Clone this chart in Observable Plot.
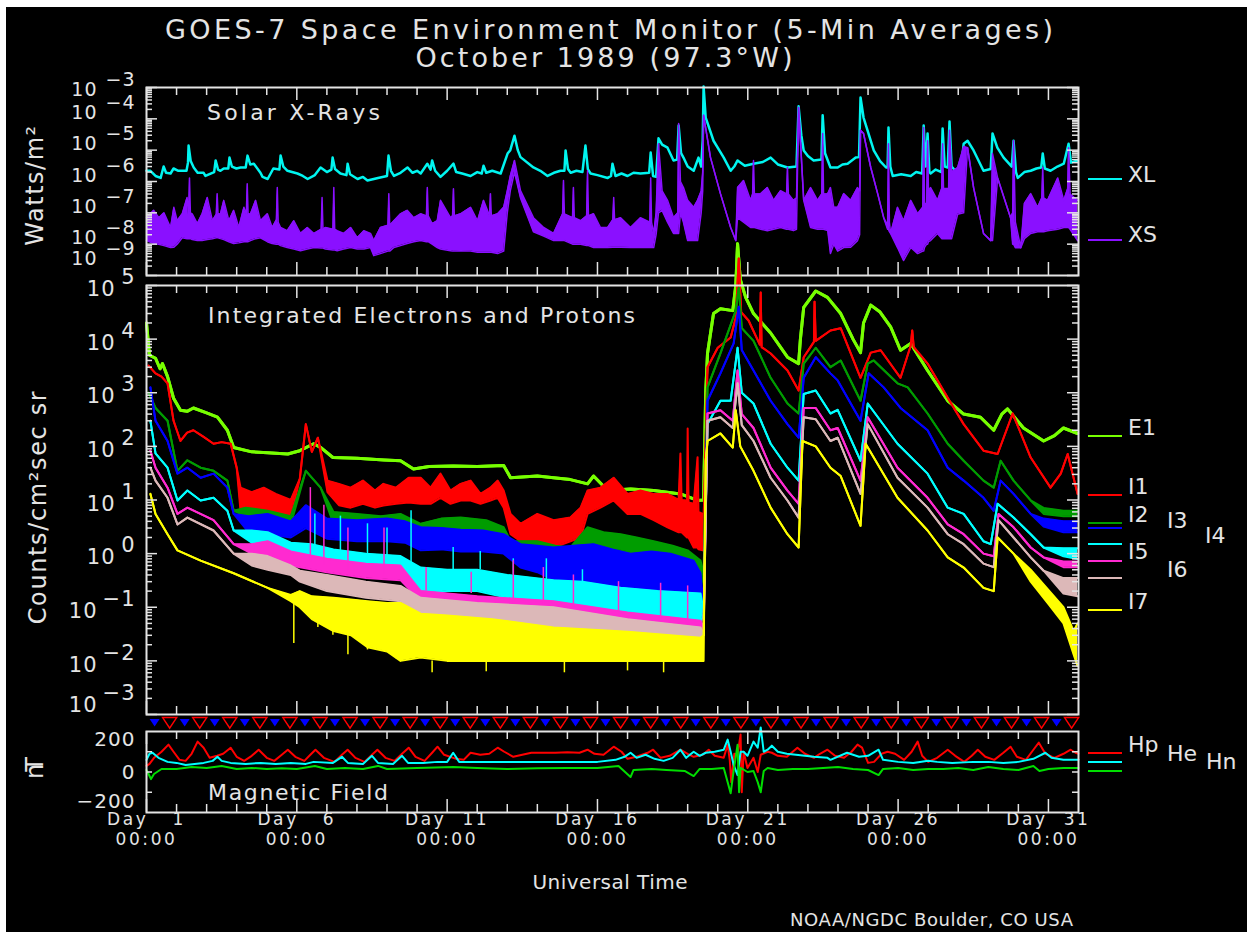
<!DOCTYPE html>
<html><head><meta charset="utf-8">
<script src="https://cdn.jsdelivr.net/npm/d3@7"></script>
<script src="https://cdn.jsdelivr.net/npm/@observablehq/plot@0.6"></script>
<style>
html,body{margin:0;padding:0;background:#fff;}
#root{position:relative;width:1247px;height:932px;overflow:hidden;background:#fff;font-family:"DejaVu Sans","Liberation Sans",sans-serif;}
#bg{position:absolute;left:6px;top:7px;width:1241px;height:925px;background:#000;}
.t{position:absolute;white-space:pre;line-height:1;color:#e4e4e4;}
.sw{position:absolute;height:2px;width:34px;left:1088px;}
</style></head><body>
<div id="root"><div id="bg"></div></div>
<script>
// ---------------- DATA ----------------
// Solar X-rays, long channel XL (W/m^2): [day of October, flux]
const xlFlux = [[1.0,2.2e-6],[1.13,2.2e-6],[1.3,1.5e-6],[1.47,1.3e-6],[1.57,3e-6],[1.65,1.9e-6],[1.8,1.8e-6],[1.9,2.6e-6],[2.06,2.2e-6],[2.33,2.2e-6],[2.38,4e-6],[2.4,1.4e-5],[2.47,4.5e-6],[2.57,2.8e-6],[2.7,1.9e-6],[2.9,1.9e-6],[2.96,1.5e-6],[3.25,2e-6],[3.3,4.7e-6],[3.38,2.4e-6],[3.46,2.2e-6],[3.57,2.6e-6],[3.72,2.6e-6],[3.76,5.8e-6],[3.84,3e-6],[3.99,2.6e-6],[4.13,2.8e-6],[4.3,2.8e-6],[4.36,6.7e-6],[4.45,3.5e-6],[4.57,3.7e-6],[4.79,1.9e-6],[4.86,1.4e-6],[5.03,1.2e-6],[5.22,2.6e-6],[5.42,2.4e-6],[5.46,6.7e-6],[5.55,3e-6],[5.69,2.2e-6],[6.02,1.8e-6],[6.2,1.5e-6],[6.36,1.2e-6],[6.6,1.6e-6],[6.79,2.8e-6],[7.0,2.0e-6],[7.15,2.4e-6],[7.19,5.8e-6],[7.27,2.5e-6],[7.45,1.8e-6],[7.65,1.6e-6],[7.69,3.7e-6],[7.77,1.7e-6],[8.02,1.2e-6],[8.2,1.4e-6],[8.35,1.07e-6],[8.56,1.2e-6],[8.7,1.3e-6],[9.0,1.5e-6],[9.05,6.7e-6],[9.13,2.2e-6],[9.23,1.5e-6],[9.45,1.9e-6],[9.68,2.8e-6],[9.85,1.9e-6],[10.0,2.2e-6],[10.12,1.8e-6],[10.34,3.7e-6],[10.45,2.4e-6],[10.5,4.7e-6],[10.6,2.2e-6],[10.78,1.4e-6],[11.0,2.2e-6],[11.21,3.7e-6],[11.3,2e-6],[11.5,1.8e-6],[11.78,1.5e-6],[12.0,2.0e-6],[12.15,1.8e-6],[12.21,3.2e-6],[12.3,1.9e-6],[12.5,2.2e-6],[12.78,1.8e-6],[13.01,7.8e-6],[13.1,1e-5],[13.24,2.9e-5],[13.35,1e-5],[13.44,6e-6],[13.87,2.8e-6],[14.1,2.2e-6],[14.34,1.5e-6],[14.55,1.9e-6],[14.77,2.2e-6],[14.9,2.2e-6],[14.94,9.8e-6],[15.02,2.5e-6],[15.11,1.9e-6],[15.3,2.2e-6],[15.5,2e-6],[15.6,1.4e-5],[15.68,2.5e-6],[15.77,1.8e-6],[16.0,1.6e-6],[16.34,1.3e-6],[16.45,1.5e-6],[16.5,3.7e-6],[16.6,1.5e-6],[16.8,1.8e-6],[17.0,1.5e-6],[17.2,1.9e-6],[17.43,1.8e-6],[17.72,1.9e-6],[17.77,8.4e-6],[17.85,1.5e-6],[17.95,1.4e-6],[18.03,2.4e-5],[18.15,1.5e-5],[18.33,1.2e-5],[18.53,4.7e-6],[18.65,5e-6],[18.7,6.1e-5],[18.78,8e-6],[18.86,5.8e-6],[19.0,3.0e-6],[19.2,2.2e-6],[19.36,5.8e-6],[19.45,3e-6],[19.5,2e-5],[19.53,1.07e-3],[19.6,1.1e-4],[19.86,2e-5],[20.2,5.8e-6],[20.43,2.2e-6],[20.55,3.0e-6],[20.66,4.7e-6],[20.9,3.2e-6],[21.19,3.7e-6],[21.5,4.2e-6],[21.76,5.8e-6],[22.0,3.5e-6],[22.32,2.8e-6],[22.62,3e-6],[22.69,2.5e-4],[22.78,3e-5],[22.86,9.8e-6],[23.0,6.5e-6],[23.19,4.7e-6],[23.45,5e-6],[23.49,1.3e-4],[23.57,8e-6],[23.75,2.8e-6],[23.99,2.8e-6],[24.15,3.5e-6],[24.32,3.7e-6],[24.59,5.8e-6],[24.7,6e-6],[24.75,4.8e-4],[24.85,1.1e-4],[25.19,9.8e-6],[25.4,4.5e-6],[25.6,2.8e-6],[25.65,2.8e-6],[25.68,5.3e-5],[25.74,3e-6],[25.82,1.5e-6],[26.1,1.7e-6],[26.42,1.5e-6],[26.6,2.0e-6],[26.8,1.8e-6],[26.85,6.1e-5],[26.92,3e-6],[26.98,3.4e-5],[27.04,2e-6],[27.08,1.8e-6],[27.25,2.4e-6],[27.44,2e-6],[27.48,4.9e-5],[27.55,3e-6],[27.65,2.8e-6],[27.71,8.2e-5],[27.78,3e-6],[27.98,1.8e-6],[28.1,3e-6],[28.18,1.6e-5],[28.31,2e-5],[28.51,9.8e-6],[28.84,2.2e-6],[29.08,2.5e-6],[29.14,3.4e-5],[29.3,1.2e-5],[29.51,5.8e-6],[29.78,3e-6],[29.84,2e-5],[29.92,2e-6],[29.98,1.3e-6],[30.2,2.0e-6],[30.41,2.2e-6],[30.6,2.6e-6],[30.76,2.8e-6],[30.81,7.8e-6],[30.88,2.6e-6],[31.07,2.2e-6],[31.3,3.0e-6],[31.51,3.7e-6],[31.67,1.6e-5],[31.75,4e-6],[31.97,4.7e-6]];

// Solar X-rays, short channel XS (W/m^2): [day, low edge, high edge] of the noisy trace
const xsBand = [[1.0,1.3e-8,7e-8],[1.24,1.05e-8,1.2e-7],[1.41,1e-8,7e-8],[1.58,9e-9,1e-7],[1.8,7.8e-9,3.4e-8],[1.91,8e-9,1.5e-7],[2.02,1e-8,5.6e-8],[2.19,1.6e-8,9.3e-8],[2.35,1.5e-8,3.1e-7],[2.4,1.5e-8,8e-8],[2.43,1.5e-8,1.3e-6],[2.46,1.5e-8,1e-7],[2.52,1.4e-8,9.3e-8],[2.69,1.3e-8,4.5e-8],[2.85,1.3e-8,9.3e-8],[3.02,1.4e-8,3.1e-7],[3.19,1.5e-8,5.6e-8],[3.32,1.6e-8,9e-8],[3.35,1.6e-8,4.1e-7],[3.38,1.6e-8,9e-8],[3.46,1.5e-8,9.3e-8],[3.57,1.4e-8,2.5e-7],[3.74,1.2e-8,5.6e-8],[3.9,1.05e-8,1.2e-7],[4.07,1.1e-8,3.4e-8],[4.24,1.2e-8,1.5e-7],[4.32,1.2e-8,9e-8],[4.35,1.2e-8,8.5e-7],[4.38,1.2e-8,9e-8],[4.46,1.3e-8,9.3e-8],[4.63,1.5e-8,2.5e-7],[4.79,1.6e-8,5.6e-8],[5.02,1.2e-8,9.3e-8],[5.18,1.05e-8,3.4e-8],[5.32,1e-8,6e-8],[5.35,1e-8,6.4e-7],[5.38,1e-8,5e-8],[5.46,9e-9,3.4e-8],[5.68,7.8e-9,2.7e-8],[5.9,7e-9,5.6e-8],[6.12,6.2e-9,2.2e-8],[6.35,7e-9,3.4e-8],[6.57,7.8e-9,2.2e-8],[6.81,7.5e-9,3e-8],[6.84,7.5e-9,3.1e-7],[6.87,7.5e-9,3e-8],[6.95,7e-9,3.4e-8],[7.2,6.5e-9,3e-8],[7.23,6.5e-9,6.4e-7],[7.26,6.5e-9,3e-8],[7.34,6.2e-9,2.7e-8],[7.56,7e-9,2.2e-8],[7.79,7.8e-9,3.4e-8],[8.01,7e-9,1.6e-8],[8.23,7e-9,2.7e-8],[8.45,7.8e-9,2.2e-8],[8.56,4.3e-9,1.3e-8],[8.78,5e-9,3.4e-8],[9.03,6e-9,4e-8],[9.06,6e-9,4.1e-7],[9.09,6e-9,4e-8],[9.23,7.8e-9,5.6e-8],[9.45,9e-9,9.3e-8],[9.67,1.05e-8,1.2e-7],[9.89,1.2e-8,7e-8],[10.12,1.3e-8,9.3e-8],[10.31,1.2e-8,8e-8],[10.34,1.2e-8,6.4e-7],[10.37,1.2e-8,8e-8],[10.5,1e-8,4.5e-8],[10.67,7.8e-9,5.6e-8],[10.78,7e-9,2.5e-7],[11.11,6.2e-9,7e-8],[11.18,6e-9,8e-8],[11.21,6e-9,5.9e-7],[11.24,6e-9,8e-8],[11.45,6.2e-9,9.3e-8],[11.78,6e-9,1.5e-7],[12.01,5.5e-9,5.6e-8],[12.21,5.5e-9,2.5e-7],[12.41,5.5e-9,8e-8],[12.44,5.5e-9,4.1e-7],[12.47,5.5e-9,8e-8],[12.68,5e-9,9.3e-8],[12.88,6e-9,1.5e-7],[13.0,1e-7,5e-7],[13.1,5e-7,1.5e-6],[13.24,2e-6,4.7e-6],[13.44,3e-7,5.1e-7],[13.87,2.5e-8,7e-8],[14.21,1.8e-8,3.4e-8],[14.54,1.3e-8,2.2e-8],[14.84,1.3e-8,9.3e-8],[14.87,1.3e-8,1.07e-6],[14.9,1.3e-8,9.3e-8],[15.17,1e-8,7e-8],[15.2,1e-8,6.4e-7],[15.23,1e-8,7e-8],[15.44,1e-8,5.6e-8],[15.64,9e-9,8e-8],[15.67,9e-9,2.2e-6],[15.7,9e-9,8e-8],[15.87,7.8e-9,9.3e-8],[16.1,7.8e-9,3.4e-8],[16.34,7.8e-9,3.4e-8],[16.51,8e-9,6e-8],[16.54,8e-9,3.1e-7],[16.57,8e-9,6e-8],[16.77,8e-9,7e-8],[17.1,7.8e-9,3.4e-8],[17.43,7.8e-9,7e-8],[17.74,7.8e-9,5e-8],[17.77,7.8e-9,1.3e-6],[17.8,7.8e-9,5e-8],[17.87,7.8e-9,2.2e-8],[17.95,2e-8,1e-7],[18.03,1e-7,1.6e-5],[18.15,1.2e-7,5e-7],[18.33,5e-8,2.5e-7],[18.53,2.2e-8,7e-8],[18.67,2.2e-8,1e-7],[18.7,2.2e-8,7.1e-5],[18.76,1e-7,1e-6],[18.86,5e-8,6.4e-7],[19.0,1.3e-8,2.5e-7],[19.2,1.3e-8,1.5e-7],[19.33,1.3e-8,2.5e-7],[19.45,1e-7,5e-7],[19.5,5e-7,2e-6],[19.53,1.3e-4,1.3e-4],[19.76,5.8e-6,5.8e-6],[20.09,4.1e-7,4.1e-7],[20.43,3.4e-8,3.4e-8],[20.6,1.3e-8,1.3e-8],[20.66,7e-8,6.4e-7],[20.86,5e-8,1.07e-6],[21.09,3.4e-8,2.5e-7],[21.16,3.4e-8,4e-7],[21.19,3.4e-8,4.7e-6],[21.22,3.4e-8,4e-7],[21.43,3e-8,4.1e-7],[21.65,2.7e-8,6.4e-7],[21.86,3e-8,2.5e-7],[22.09,3.4e-8,5.1e-7],[22.29,3e-8,4e-7],[22.32,3e-8,2.8e-6],[22.35,3e-8,4e-7],[22.52,2.7e-8,2.5e-7],[22.62,3e-8,3e-7],[22.69,2.3e-4,2.3e-4],[22.86,2.5e-7,2.5e-7],[23.09,3.4e-8,6.4e-7],[23.32,3e-8,2.5e-7],[23.46,3e-8,4e-7],[23.49,3e-8,3.4e-5],[23.52,3e-8,4e-7],[23.66,2.7e-8,4.1e-7],[23.75,5e-9,6.4e-7],[23.86,1e-8,1.5e-7],[23.99,6e-9,1.5e-7],[24.19,7.8e-9,4.1e-7],[24.42,8e-9,2.5e-7],[24.65,1.3e-8,6.4e-7],[24.72,2e-8,5e-7],[24.75,4.3e-5,4.3e-5],[24.85,3.4e-5,3.4e-5],[25.09,2.8e-6,2.8e-6],[25.32,4.1e-7,4.1e-7],[25.52,7e-8,7e-8],[25.65,3e-8,4e-8],[25.68,3e-8,1.6e-5],[25.71,2.5e-8,5e-8],[25.75,2.2e-8,2.2e-8],[25.98,7.8e-9,1.5e-7],[26.18,3e-9,5.6e-8],[26.42,7.8e-9,2.5e-7],[26.65,5e-9,9.3e-8],[26.82,6e-9,1.5e-7],[26.85,6e-9,5.3e-5],[26.88,8e-9,2e-7],[26.95,1e-8,2e-7],[26.98,1e-8,2e-5],[27.01,1.2e-8,5e-7],[27.08,1.3e-8,6.4e-7],[27.31,2.2e-8,2.5e-7],[27.45,1.5e-8,6e-7],[27.48,1.5e-8,1.6e-5],[27.51,1.5e-8,6e-7],[27.68,1.5e-8,6e-7],[27.71,1.5e-8,4.3e-5],[27.78,1.5e-8,2e-6],[27.98,9e-8,2.8e-6],[28.18,1e-7,1.3e-5],[28.31,1.2e-5,1.2e-5],[28.51,6.4e-7,6.4e-7],[28.84,2.2e-8,2.2e-8],[29.08,1.3e-8,1.3e-8],[29.14,1.3e-8,7.8e-6],[29.31,1.3e-6,1.3e-6],[29.74,7e-8,7e-8],[29.81,1e-8,1e-7],[29.84,1e-8,2e-5],[29.9,7.7e-9,5e-8],[30.08,7.7e-9,7.7e-9],[30.2,1.5e-8,2e-7],[30.41,2.2e-8,4.1e-7],[30.64,2.5e-8,1.5e-7],[30.78,2.5e-8,3e-7],[30.81,2.5e-8,2.8e-6],[30.84,2.5e-8,3e-7],[30.97,2.7e-8,2.5e-7],[31.31,3e-8,1.3e-6],[31.51,3.4e-8,2.5e-7],[31.64,3.4e-8,6e-7],[31.67,3.4e-8,1.2e-5],[31.72,3e-8,4e-7],[31.97,1.3e-8,2.5e-7]];

// Integrated electrons and protons (counts/cm^2 sec sr): [day, low, high]
const e1Flux = [[1.0,2.0e4],[1.1,5.0e3],[1.3,4.4e3],[1.45,2.8e3],[1.53,3.5e3],[1.7,2.0e3],[1.9,790],[2.13,470],[2.35,450],[2.56,520],[3.0,420],[3.36,350],[3.69,200],[3.9,95],[4.5,79],[5.03,76],[5.7,72],[6.1,83],[6.56,112],[6.8,95],[7.2,62],[8.0,60],[8.9,56],[9.45,54],[9.88,38],[10.4,42],[11.2,43],[12.0,42],[12.88,44],[13.11,26],[14.0,28],[14.54,26],[15.1,24],[15.67,20],[15.87,28],[16.34,15],[17.1,16],[17.87,15],[18.76,13],[19.33,9.8],[19.53,10],[19.6,1000],[19.66,5400],[19.86,3.0e4],[20.09,3.7e4],[20.5,3.4e4],[20.6,1.0e5],[20.66,6.0e5],[20.75,1.3e5],[20.93,6.0e4],[21.19,3.0e4],[21.76,1.3e4],[22.32,4.6e3],[22.69,3.5e3],[22.75,1.0e4],[22.86,3.9e4],[23.26,7.9e4],[23.65,6.0e4],[24.09,3.0e4],[24.5,1.0e4],[24.75,5.6e3],[24.85,2.0e4],[25.09,4.3e4],[25.4,3.2e4],[25.75,1.7e4],[26.08,6.2e3],[26.42,8.3e3],[26.98,2.6e3],[27.65,710],[28.18,400],[28.74,350],[29.18,200],[29.45,400],[29.64,500],[30.17,220],[30.84,126],[31.2,158],[31.5,220],[31.97,174]];
const i1Flux = [[1.07,3200],[1.3,2300],[1.5,2000],[1.7,1500],[1.9,300],[2.13,126],[2.35,180],[2.56,200],[2.9,150],[3.23,112],[3.5,120],[3.8,112],[4.0,40],[4.13,6,17],[4.5,5.5,14],[4.9,6.3,17],[5.3,5.5,13],[5.8,5,10],[6.1,25],[6.3,260],[6.5,79],[6.7,145],[7.02,14,23],[7.4,8,20],[7.79,7.2,17],[8.2,8.5,23],[8.6,7.2,15],[8.88,7.9,20],[9.3,8.5,17],[9.72,9,26],[10.12,8.5,26],[10.45,8.5,17],[10.78,11,31],[11.11,8.5,15],[11.45,9.8,20],[11.78,9.8,23],[12.11,8.5,13],[12.44,9.8,17],[12.68,11,23],[12.88,7.2,15],[13.11,2.3,5.5],[13.44,1.7,3.6],[14.0,1.7,5.5],[14.54,1.3,4.2],[15.1,1.7,4.7],[15.44,2,7.2],[15.67,5.5,15],[16.1,7.2,17],[16.54,9.8,26],[17.0,5.5,13],[17.43,5.5,15],[17.87,4.2,13],[18.33,3.1,13],[18.7,2.5,10],[18.76,2.5,74],[18.8,2.5,10],[18.98,2,9.8],[19.0,2,215],[19.03,2,9],[19.2,1.3,8.5],[19.33,1.3,63],[19.36,1.2,6],[19.5,1.15,5.5],[19.53,4],[19.66,3000],[20.0,6900],[20.43,1.07e4],[20.6,2.5e4],[20.7,3.2e5],[20.78,3.2e4],[21.03,2.2e4],[21.4,7900],[21.43,7.4e4],[21.46,7100],[21.76,5400],[22.32,2600],[22.69,1100],[22.86,4600],[23.2,8900],[23.22,5e4],[23.26,9300],[23.75,1.45e4],[24.09,1.6e4],[24.75,1900],[25.09,5600],[25.42,6200],[26.08,1900],[26.42,7600],[26.47,1.45e4],[26.52,7100],[26.98,3500],[27.65,810],[28.18,260],[28.84,83],[29.31,72],[29.81,410],[30.41,62],[31.07,17],[31.41,31],[31.64,72],[31.97,13]];
const i2Flux = [[1.07,1000],[1.3,520],[1.7,300],[2.03,35],[2.36,55],[2.8,40],[3.23,35],[3.69,23],[3.9,6.3],[4.3,5,7.2],[5.03,4.2,6.3],[5.8,3.5,5],[6.3,35],[6.79,17],[7.22,3.6,6],[8.0,3.6,5.5],[8.8,3.1,5],[9.45,3.1,5.5],[10.12,2,3.6],[10.8,2.2,4.5],[11.45,2.3,4.7],[12.3,2.3,4.2],[12.88,1.7,3.1],[13.11,1,1.7],[14.0,0.9,1.7],[14.6,0.8,1.4],[15.1,0.74,1.3],[15.67,1.3,3.1],[16.2,1.2,2.5],[16.77,1.15,2.3],[17.3,1.0,2.0],[17.87,0.9,1.7],[18.5,0.7,1.4],[19.0,0.48,1.15],[19.43,0.23,0.74],[19.53,0.4],[19.66,1260],[20.09,5400],[20.6,3.4e4],[20.7,9.1e4],[20.8,1.6e4],[21.19,9300],[21.76,1900],[22.32,630],[22.69,410],[22.86,3500],[23.26,6900],[23.75,3000],[24.09,4000],[24.75,710],[24.99,3500],[25.19,4000],[25.98,1500],[26.32,1260],[26.98,410],[27.65,112],[28.18,54],[28.84,23],[29.18,17],[29.41,54],[29.84,23],[30.41,9.8],[30.84,5.5,7.1],[31.5,5,6.3],[31.97,5,6.3]];
const i3Flux = [[1.13,1260],[1.3,300],[1.7,126],[2.03,31],[2.36,40],[2.8,26],[3.23,31],[3.69,17],[3.9,5.5],[4.4,2.5,5],[5.03,2.3,5.5],[5.8,2.0,4],[6.3,3,8],[7.0,1.9,4.5],[8.0,1.7,4.2],[9.0,1.7,4.5],[9.6,1.6,4],[10.12,1.15,3.1],[10.8,1.2,3],[11.45,1.1,2.8],[12.2,1.1,2.7],[12.88,1,2.3],[13.44,0.55,1.5],[14.0,0.45,1.4],[14.54,0.32,1.3],[15.2,0.25,1.4],[15.87,0.2,1.5],[16.5,0.2,1.2],[17.1,0.18,1],[17.8,0.13,1.1],[18.43,0.1,1],[19.2,0.076,0.74],[19.43,0.063,0.43],[19.53,0.1],[19.66,710],[20.09,2300],[20.53,8300],[20.7,4e4],[20.8,6300],[21.19,2600],[21.76,710],[22.32,260],[22.69,145],[22.86,1900],[23.26,4600],[23.75,2300],[23.99,1700],[24.75,300],[25.02,2300],[25.52,1260],[26.08,520],[26.98,200],[27.65,40],[28.18,23],[28.84,11],[29.18,6.3],[29.41,23],[29.84,13],[30.41,5.5],[30.84,3.2,4.5],[31.5,2.5,4],[31.97,2.5,4]];
const i5Flux = [[1.13,300],[1.3,74],[1.7,40],[2.03,9.8],[2.36,15],[2.8,9.8],[3.23,11],[3.69,6.3],[3.9,2.7],[4.5,1.6,2.7],[5.03,1.3,2.5],[5.8,0.9,1.6],[6.5,0.8,1.5],[7.22,0.6,1.2],[8.3,0.55,1.0],[9.45,0.45,0.9],[10.12,0.18,0.55],[11.0,0.2,0.5],[12.0,0.2,0.5],[13.0,0.15,0.4],[14.54,0.1,0.32],[15.5,0.09,0.3],[16.77,0.076,0.23],[18.0,0.06,0.2],[19.43,0.05,0.18],[19.53,0.08],[19.66,260],[20.09,710],[20.43,710],[20.66,6900],[20.8,1000],[21.19,630],[21.76,112],[22.32,40],[22.69,23],[22.86,950],[23.26,1100],[23.75,410],[23.99,480],[24.75,54],[24.99,630],[25.98,112],[26.98,31],[27.65,7.2],[28.18,5.5],[28.84,1.7],[29.08,1.5],[29.31,8.5],[29.84,4.7],[30.41,2.3],[30.84,1.3],[31.5,0.89,1.26],[31.97,0.79,1.26]];
const i6Flux = [[1.13,83],[1.3,40],[1.7,17],[2.03,5.5],[2.36,7.2],[3.23,4.2],[3.9,1.5],[4.5,1.0,1.5],[5.03,0.85,1.7],[5.8,0.6,1.1],[7.0,0.45,0.8],[8.3,0.35,0.65],[9.45,0.32,0.6],[10.12,0.13,0.2],[12.0,0.09,0.16],[14.54,0.056,0.13],[17.0,0.04,0.08],[19.43,0.027,0.056],[19.53,0.04],[19.66,410],[20.09,470],[20.5,300],[20.66,2600],[20.8,400],[21.19,220],[21.76,40],[22.32,15],[22.69,8.5],[22.86,520],[23.26,520],[23.75,200],[23.99,220],[24.75,23],[24.99,350],[25.98,40],[26.98,11],[27.65,3.5],[28.18,2.3],[28.84,1],[29.18,0.89],[29.34,5.5],[29.84,3.1],[30.41,1.3],[30.84,0.85],[31.5,0.56,0.71],[31.97,0.56,0.71]];
const i6bFlux = [[1.13,40],[1.3,23],[1.7,11],[2.03,3.5],[2.36,4.7],[3.23,2.7],[3.9,1],[4.5,0.6,1],[5.03,0.5,0.9],[5.8,0.4,0.6],[6.1,0.3,0.48],[7.0,0.2,0.4],[8.3,0.15,0.3],[9.45,0.13,0.25],[10.12,0.076,0.15],[12.0,0.06,0.12],[14.54,0.042,0.1],[17.0,0.03,0.06],[19.43,0.024,0.042],[19.53,0.03],[19.66,300],[20.09,350],[20.5,220],[20.66,1500],[20.8,250],[21.19,126],[21.76,26],[22.32,9.8],[22.69,4.7],[22.86,350],[23.26,320],[23.75,126],[23.99,145],[24.75,13],[24.99,260],[25.98,26],[26.98,7.2],[27.65,2.3],[28.18,1.5],[28.84,0.65],[29.18,0.56],[29.34,4.2],[29.84,2],[30.41,0.85],[30.84,0.48],[31.5,0.18,0.35],[31.97,0.16,0.35]];
const i7Flux = [[1.13,13],[1.3,5.5],[1.7,2.3],[2.03,1.15],[2.8,0.74],[3.9,0.43],[5.03,0.23],[5.8,0.13,0.17],[6.1,0.1,0.2],[6.5,0.06,0.16],[7.22,0.036,0.15],[7.8,0.03,0.14],[8.35,0.018,0.13],[9.0,0.015,0.12],[9.45,0.01,0.12],[10.12,0.0115,0.076],[11.0,0.01,0.07],[12.5,0.01,0.06],[14.54,0.01,0.042],[17.0,0.01,0.035],[19.43,0.01,0.027],[19.53,0.01,0.03],[19.6,54],[19.66,126],[20.09,174],[20.5,95],[20.6,470],[20.75,100],[21.19,35],[21.76,7.2],[22.32,2.3],[22.69,1.3],[22.82,126],[23.26,100],[23.75,40],[24.09,28],[24.75,3.3],[24.92,112],[25.98,11],[26.98,2.7],[27.65,0.85],[28.18,0.55],[28.84,0.23],[29.18,0.2],[29.31,2],[29.84,1],[30.41,0.3,0.5],[30.97,0.12,0.22],[31.5,0.05,0.1],[31.84,0.013,0.036],[31.97,0.008,0.05]];
// short spikes in the quiet-time traces: [day, from, to]
const i5Spikes = [[6.6,1,5.5],[7.45,0.8,5],[8.35,0.7,3.6],[9.0,0.6,3.0],[9.8,0.6,6.3],[11.2,0.5,1.3],[12.1,0.5,1.1],[13.2,0.4,0.8],[14.3,0.3,0.8],[15.5,0.25,0.5]];
const i6Spikes = [[6.45,0.7,17],[6.9,0.6,8],[7.7,0.5,3],[8.9,0.4,3],[10.3,0.2,0.55],[11.8,0.18,0.45],[13.2,0.12,0.74],[14.2,0.11,0.55],[15.2,0.1,0.4],[16.7,0.08,0.3],[18.1,0.06,0.28],[19.0,0.05,0.25]];
const i7Spikes = [[5.9,0.15,0.021],[6.7,0.1,0.042],[7.2,0.1,0.03],[7.7,0.08,0.013],[8.35,0.07,0.016],[9.3,0.06,0.011],[10.5,0.01,0.006],[12.3,0.01,0.0063],[14.9,0.01,0.006],[17.0,0.01,0.0065],[18.2,0.01,0.006]];

// Magnetic field (nT): [day, value]
const hpField = [[1.0,30],[1.1,40],[1.25,70],[1.5,100],[1.73,135],[1.9,100],[2.1,60],[2.3,55],[2.5,90],[2.7,150],[2.9,120],[3.1,70],[3.35,80],[3.55,90],[3.8,120],[4.0,75],[4.25,55],[4.5,80],[4.73,110],[5.0,70],[5.25,55],[5.5,85],[5.7,110],[5.95,75],[6.25,55],[6.45,85],[6.62,110],[6.9,70],[7.25,50],[7.5,85],[7.69,110],[7.95,70],[8.25,50],[8.5,85],[8.68,110],[8.95,70],[9.25,55],[9.5,90],[9.72,120],[9.95,75],[10.25,55],[10.5,95],[10.68,125],[10.9,85],[11.3,65],[11.55,60],[11.78,95],[12.1,85],[12.4,90],[12.68,120],[12.9,100],[13.2,75],[13.5,85],[13.8,95],[14.2,95],[14.6,95],[15.0,98],[15.4,95],[15.67,110],[15.9,90],[16.2,85],[16.54,125],[16.8,100],[17.0,65],[17.3,75],[17.67,95],[17.85,110],[18.1,70],[18.4,80],[18.76,110],[19.0,90],[19.2,75],[19.5,85],[19.7,110],[19.9,80],[20.2,70],[20.33,135],[20.4,60],[20.45,-50],[20.55,90],[20.66,85],[20.76,185],[20.8,-100],[20.86,100],[20.99,20],[21.19,70],[21.33,0],[21.43,85],[21.66,100],[21.8,95],[22.0,80],[22.3,75],[22.65,120],[22.9,90],[23.2,70],[23.4,90],[23.65,110],[23.9,80],[24.2,70],[24.45,100],[24.65,135],[24.8,120],[25.0,45],[25.2,50],[25.45,90],[25.65,100],[25.9,90],[26.2,60],[26.45,100],[26.65,150],[26.8,80],[27.0,50],[27.3,70],[27.65,110],[27.9,80],[28.2,50],[28.45,80],[28.65,110],[28.9,75],[29.2,60],[29.5,95],[29.74,125],[29.95,75],[30.25,60],[30.5,110],[30.68,145],[30.9,90],[31.2,70],[31.5,90],[31.74,110],[31.9,95],[32.0,90]];
const heField = [[1.0,60],[1.1,90],[1.2,95],[1.4,70],[1.7,50],[2.0,45],[2.3,35],[2.6,40],[2.9,45],[3.2,55],[3.36,75],[3.5,55],[3.8,45],[4.3,40],[4.8,45],[5.3,40],[5.8,45],[6.3,40],[6.56,50],[7.2,45],[7.5,75],[7.7,45],[8.2,40],[8.5,80],[8.7,45],[9.2,40],[9.5,80],[9.7,45],[10.2,45],[10.68,50],[11.0,50],[11.2,95],[11.4,50],[12.0,50],[13.0,50],[14.0,50],[15.0,50],[16.0,50],[16.6,60],[16.9,75],[17.1,95],[17.3,70],[17.6,85],[17.9,65],[18.2,55],[18.5,70],[18.76,110],[18.95,70],[19.2,100],[19.4,80],[19.6,95],[19.9,100],[20.2,110],[20.33,160],[20.43,100],[20.53,35],[20.66,-15],[20.76,100],[20.86,100],[20.99,80],[21.19,150],[21.33,120],[21.43,220],[21.53,100],[21.66,110],[21.8,130],[22.0,100],[22.3,90],[22.6,85],[22.9,80],[23.2,75],[23.65,70],[23.75,60],[24.3,95],[24.7,75],[25.0,80],[25.35,110],[25.5,60],[26.0,50],[26.5,45],[27.0,55],[27.3,50],[27.8,45],[28.5,50],[29.0,50],[29.5,45],[30.0,50],[30.5,65],[30.9,95],[31.1,70],[31.5,60],[32.0,60]];
const hnField = [[1.0,10],[1.1,-20],[1.15,-35],[1.25,-10],[1.5,15],[2.0,15],[2.5,25],[3.0,20],[3.5,30],[4.0,15],[4.5,20],[5.0,15],[5.5,18],[6.0,15],[6.6,30],[7.0,15],[7.6,20],[8.2,15],[8.7,30],[9.0,15],[10.0,20],[11.2,25],[12.0,20],[13.0,15],[14.0,18],[15.0,20],[16.0,20],[16.7,30],[17.1,-25],[17.2,10],[17.8,15],[18.3,10],[18.9,5],[19.2,-20],[19.4,15],[19.8,15],[20.2,20],[20.33,-50],[20.43,-105],[20.53,5],[20.66,135],[20.71,-100],[20.76,20],[20.99,0],[21.19,5],[21.33,-50],[21.43,-100],[21.53,5],[21.66,20],[22.0,10],[22.5,15],[23.0,15],[23.5,20],[24.0,25],[24.5,15],[25.0,10],[25.35,-15],[25.5,15],[26.0,20],[26.5,10],[27.0,15],[27.5,15],[28.0,20],[28.5,10],[29.0,25],[29.5,15],[30.0,10],[30.5,30],[30.7,5],[31.0,15],[31.5,20],[32.0,20]];

// local-time markers (UT day): satellite local midnight (filled) and noon (open)
const localMidnight = [1.27,2.27,3.27,4.27,5.27,6.27,7.27,8.27,9.27,10.27,11.27,12.27,13.27,14.27,15.27,16.27,17.27,18.27,19.27,20.27,21.27,22.27,23.27,24.27,25.27,26.27,27.27,28.27,29.27,30.27,31.27];
const localNoon = [1.77,2.77,3.77,4.77,5.77,6.77,7.77,8.77,9.77,10.77,11.77,12.77,13.77,14.77,15.77,16.77,17.77,18.77,19.77,20.77,21.77,22.77,23.77,24.77,25.77,26.77,27.77,28.77,29.77,30.77,31.77];

// axis ticks and labels
const majorDays = [1,6,11,16,21,26,31];
const minorDays = [2,3,4,5,7,8,9,10,12,13,14,15,17,18,19,20,22,23,24,25,27,28,29,30];
const xrayDecades = [-9,-8,-7,-6,-5,-4,-3];
const particleDecades = [-3,-2,-1,0,1,2,3,4,5];
const fieldLabels = [200,0,-200];
const fieldTicks = [-100,0,100];

// ---------------- STYLE ----------------
const FRAME = "#e4e4e4";
const C = {XL:"#00f5f0", XS:"#8a10ff", E1:"#77ff00", I1:"#ff0000", I2:"#009c00", I3:"#0000ff", I5:"#00ffff", I6:"#ff2ad0", I6b:"#dcb8b8", I7:"#ffff00", Hp:"#ff0000", He:"#00ffff", Hn:"#00dd00"};
const FONT = "'DejaVu Sans','Liberation Sans',sans-serif";
const root = document.getElementById("root");
const PW = 932; // plot-area width (146..1078)

function svgStyle(top){return `position:absolute;left:0px;top:${top}px;background:transparent;color:${FRAME};font-family:${FONT};letter-spacing:1px;overflow:visible;max-width:none;`;}
const X = d => d[0], LO = d => d[1], HI = d => d.length > 2 ? d[2] : d[1];
function bandMarks(data, color, w){
  return [
    Plot.areaY(data, {x: X, y1: LO, y2: HI, fill: color}),
    Plot.lineY(data, {x: X, y: LO, stroke: color, strokeWidth: w}),
    Plot.lineY(data, {x: X, y: HI, stroke: color, strokeWidth: w})
  ];
}
function spikeMarks(data, color){
  return Plot.ruleX(data, {x: X, y1: d=>d[1], y2: d=>d[2], stroke: color, strokeWidth: 1.5});
}
function xTickMarks(H){
  const o = {x: d=>d, stroke: FRAME, strokeWidth: 1.5};
  return [
    Plot.ruleX(minorDays, {...o, insetBottom: H - 8}),
    Plot.ruleX(minorDays, {...o, insetTop: H - 8}),
    Plot.ruleX(majorDays, {...o, insetBottom: H - 13}),
    Plot.ruleX(majorDays, {...o, insetTop: H - 13})
  ];
}
function yTickMarks(vals, len){
  const o = {y: d=>d, stroke: FRAME, strokeWidth: 1.5};
  return [Plot.ruleY(vals, {...o, insetRight: PW - len}), Plot.ruleY(vals, {...o, insetLeft: PW - len})];
}
function logMinor(lo, hi){const v=[];for(let k=lo;k<hi;k++)for(let m=2;m<=9;m++)v.push(m*10**k);return v;}
function logLabels(exps, top, bot, dyTop, dyMid, dyBot, fs, sup){
  const marks = [];
  const groups = [[exps.filter(e=>e===top), dyTop],[exps.filter(e=>e===bot), dyBot],[exps.filter(e=>e!==top&&e!==bot), dyMid]];
  for (const [g, dy] of groups) for (const neg of [true,false]) {
    const gg = g.filter(e => (e < 0) === neg);
    if (!gg.length) continue;
    marks.push(Plot.text(gg, {y: e=>10**e, text: ()=>"10", frameAnchor: "left", textAnchor: "end", dx: neg ? -49 : -31, dy, fontSize: fs, fill: FRAME}));
    marks.push(Plot.text(gg, {y: e=>10**e, text: e=>String(e).replace("-", "\u2212"), frameAnchor: "left", textAnchor: "end", dx: -11, dy: dy - sup, fontSize: fs, fill: FRAME}));
  }
  return marks;
}
const triDown = {draw(ctx, size){const r=Math.sqrt(size/Math.PI);ctx.moveTo(-r,-0.7*r);ctx.lineTo(r,-0.7*r);ctx.lineTo(0,0.8*r);ctx.closePath();}};

// ---------------- PANEL 1: Solar X-rays ----------------
const H1 = 188;
const p1 = Plot.plot({
  width: 1247, height: H1 + 20, marginLeft: 146, marginRight: 169, marginTop: 10, marginBottom: 10,
  style: svgStyle(77),
  x: {domain: [1, 32], axis: null},
  y: {type: "log", domain: [1e-9, 1e-3], axis: null},
  marks: [
    Plot.lineY(xlFlux, {x: X, y: d=>d[1], stroke: C.XL, strokeWidth: 2.5}),
    ...bandMarks(xsBand, C.XS, 1.5),
    Plot.frame({stroke: FRAME, strokeWidth: 2}),
    ...xTickMarks(H1),
    ...yTickMarks(logMinor(-9, -3), 6),
    ...yTickMarks(xrayDecades.map(e=>10**e), 11),
    ...logLabels(xrayDecades, -3, -9, 2, -6, -17, 19, 10)
  ]
});
root.appendChild(p1);

// ---------------- PANEL 2: Integrated electrons and protons ----------------
const H2 = 429;
const p2 = Plot.plot({
  width: 1247, height: H2 + 70, marginLeft: 146, marginRight: 169, marginTop: 60, marginBottom: 10,
  style: svgStyle(225),
  x: {domain: [1, 32], axis: null},
  y: {type: "log", domain: [1e-3, 1e5], axis: null},
  marks: [
    ...bandMarks(e1Flux, C.E1, 3),
    ...bandMarks(i1Flux, C.I1, 2),
    ...bandMarks(i2Flux, C.I2, 2),
    ...bandMarks(i3Flux, C.I3, 2),
    ...bandMarks(i5Flux, C.I5, 2), spikeMarks(i5Spikes, C.I5),
    ...bandMarks(i6Flux, C.I6, 2), spikeMarks(i6Spikes, C.I6),
    ...bandMarks(i6bFlux, C.I6b, 2),
    ...bandMarks(i7Flux, C.I7, 2), spikeMarks(i7Spikes, C.I7),
    Plot.frame({stroke: FRAME, strokeWidth: 2}),
    ...xTickMarks(H2),
    ...yTickMarks(logMinor(-3, 5), 6),
    ...yTickMarks(particleDecades.map(e=>10**e), 11),
    ...logLabels(particleDecades, 5, -3, 4, 4, -9, 21, 12)
  ]
});
root.appendChild(p2);

// ---------------- PANEL 3: Magnetic field ----------------
const H3 = 81;
const p3 = Plot.plot({
  width: 1247, height: H3 + 60, marginLeft: 146, marginRight: 169, marginTop: 20, marginBottom: 40,
  style: svgStyle(711),
  x: {domain: [1, 32], axis: null},
  y: {domain: [-200, 200], axis: null},
  marks: [
    Plot.dot(localMidnight, {x: d=>d, frameAnchor: "top", dy: -9, symbol: triDown, r: 5, fill: "#0000ff", stroke: "none"}),
    Plot.dot(localNoon, {x: d=>d, frameAnchor: "top", dy: -9, symbol: triDown, r: 7, fill: "none", stroke: "#ff0000", strokeWidth: 1.5}),
    Plot.lineY(hpField, {x: X, y: d=>d[1], stroke: C.Hp, strokeWidth: 2}),
    Plot.lineY(heField, {x: X, y: d=>d[1], stroke: C.He, strokeWidth: 2}),
    Plot.lineY(hnField, {x: X, y: d=>d[1], stroke: C.Hn, strokeWidth: 2}),
    Plot.frame({stroke: FRAME, strokeWidth: 2}),
    ...xTickMarks(H3),
    ...yTickMarks(fieldTicks, 6),
    Plot.text(fieldLabels.filter(v=>v===200), {y: d=>d, text: d=>String(d), frameAnchor: "left", textAnchor: "end", dx: -11, dy: 8, fontSize: 20, fill: FRAME}),
    Plot.text(fieldLabels.filter(v=>v===0), {y: d=>d, text: d=>String(d), frameAnchor: "left", textAnchor: "end", dx: -11, dy: 1, fontSize: 20, fill: FRAME}),
    Plot.text(fieldLabels.filter(v=>v===-200), {y: d=>d, text: d=>"\u2212" + String(-d), frameAnchor: "left", textAnchor: "end", dx: -11, dy: -11, fontSize: 20, fill: FRAME}),
    Plot.text(majorDays, {x: d=>d, text: d=>"Day " + (d < 10 ? "  " : " ") + d, frameAnchor: "bottom", dy: 12, fontSize: 17, fill: FRAME}),
    Plot.text(majorDays, {x: d=>d, text: ()=>"00:00", frameAnchor: "bottom", dy: 32, fontSize: 17, fill: FRAME})
  ]
});
p3.querySelectorAll("text").forEach(t => { if (/^(Day|00:00)/.test(t.textContent)) t.style.letterSpacing = "2.6px"; });
root.appendChild(p3);

// ---------------- TITLES, AXIS TITLES, LEGENDS ----------------
function label(str, x, y, {size=21, anchor="start", width=null, rotate=false, color=FRAME}={}){
  const el = document.createElement("div");
  el.className = "t"; el.textContent = str;
  el.style.fontSize = size + "px"; el.style.color = color;
  root.appendChild(el);
  let w = el.getBoundingClientRect().width;
  const n = [...str].length;
  if (width && n > 1) { const ls = (width - w) / (n - 1); el.style.letterSpacing = ls + "px"; w = width; }
  if (rotate) {
    const bw = el.getBoundingClientRect().width;
    el.style.left = (x - bw/2) + "px"; el.style.top = (y - size/2) + "px";
    el.style.transform = "rotate(-90deg)"; el.style.transformOrigin = "50% 50%";
  } else {
    const left = anchor === "start" ? x : anchor === "middle" ? x - w/2 : x - w;
    el.style.left = left + "px"; el.style.top = (y - 0.48*size) + "px";
  }
  return el;
}
label("GOES-7 Space Environment Monitor (5-Min Averages)", 609, 29, {size: 27, anchor: "middle", width: 888});
label("October 1989 (97.3\u00b0W)", 604, 57, {size: 27, anchor: "middle", width: 377});
label("Solar X-Rays", 207, 113, {size: 22, width: 173});
label("Integrated Electrons and Protons", 208, 316, {size: 22, width: 427});
label("Magnetic Field", 208, 793, {size: 22, width: 180});
label("Universal Time", 610, 882, {size: 20, anchor: "middle", width: 155});
label("NOAA/NGDC Boulder, CO USA", 790, 920, {size: 18, width: 283});
label("Watts/m\u00b2", 35, 185, {size: 24, width: 120, rotate: true});
label("Counts/cm\u00b2sec sr", 38, 507, {size: 24, width: 233, rotate: true});
label("nT", 35, 772, {size: 24, width: 22, rotate: true});

function swatch(y, color){const d=document.createElement("div");d.className="sw";d.style.top=(y-1)+"px";d.style.background=color;root.appendChild(d);}
const legendItems = [
  ["XL", C.XL, 179, 1128, 175], ["XS", C.XS, 240, 1128, 235],
  ["E1", C.E1, 436, 1128, 428], ["I1", C.I1, 495, 1128, 487], ["I2", C.I2, 523, 1128, 515],
  ["I3", C.I3, 528, 1167, 521], ["I4", null, null, 1205, 536], ["I5", C.I5, 544, 1128, 552],
  ["I6", C.I6, 561, 1167, 570], [null, C.I6b, 578], ["I7", C.I7, 610, 1128, 602],
  ["Hp", C.Hp, 753, 1128, 745], ["He", C.He, 762, 1167, 754], ["Hn", C.Hn, 771, 1206, 762]
];
for (const [name, color, ly, lx, ty] of legendItems) {
  if (color && ly != null) swatch(ly, color);
  if (name) label(name, lx, ty, {size: 22});
}
</script></body></html>
